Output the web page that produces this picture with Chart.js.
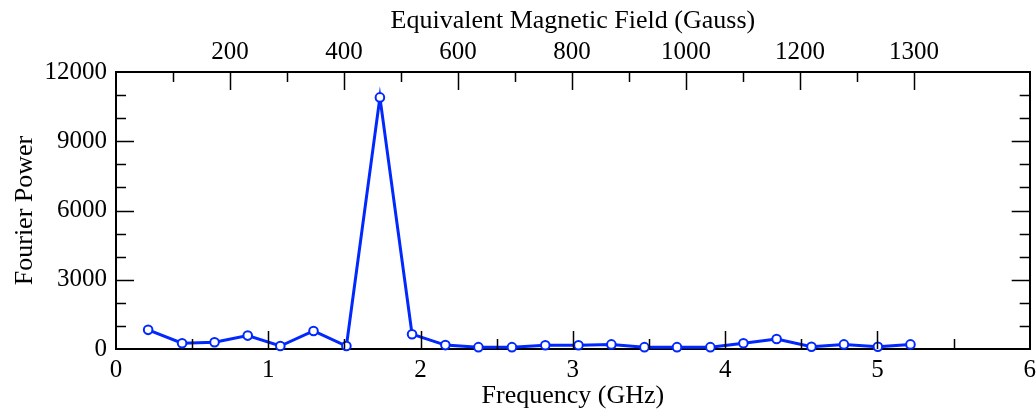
<!DOCTYPE html>
<html>
<head>
<meta charset="utf-8">
<title>Fourier Power</title>
<script src="https://cdn.jsdelivr.net/npm/chart.js@4.4.1/dist/chart.umd.min.js"></script>
<style>
    html, body { margin: 0; padding: 0; background: #fff; }
    #wrap { width: 1036px; height: 412px; }
</style>
</head>
<body>
<div id="wrap"><canvas id="powerChart"></canvas></div>
<script>
// Data
const freqGHz = [0.211, 0.434, 0.647, 0.865, 1.079, 1.297, 1.513, 1.733, 1.944, 2.163, 2.380, 2.600,
                 2.819, 3.037, 3.253, 3.470, 3.684, 3.903, 4.120, 4.338, 4.567, 4.780, 5.003, 5.217];
const fourierPower = [830, 250, 290, 580, 130, 780, 130, 10900, 640, 170, 80, 80,
                      160, 160, 200, 80, 80, 80, 250, 430, 100, 200, 100, 200];

// Axis ticks
const freqTicks = [0, 1, 2, 3, 4, 5, 6];
const freqMinor = [0.5, 1.5, 2.5, 3.5, 4.5, 5.5];
const powerTicks = [0, 3000, 6000, 9000, 12000];
const powerMinor = [1000, 2000, 4000, 5000, 7000, 8000, 10000, 11000];
const gaussTicks = [200, 400, 600, 800, 1000, 1200, 1400];
const gaussLabels = ['200', '400', '600', '800', '1000', '1200', '1300'];
const gaussMinor = [100, 300, 500, 700, 900, 1100, 1300];

const FAMILY = '"Liberation Serif", "DejaVu Serif", serif';
const TICK_FONT = { family: FAMILY, size: 25 };
const TITLE_FONT = { family: FAMILY, size: 26 };
const BLACK = '#000';
const BLUE = 'rgb(0, 40, 255)';

// draws the inward tick marks on all four sides
const insideTicks = {
    id: 'insideTicks',
    afterDraw(chart) {
        const ctx = chart.ctx;
        const a = chart.chartArea;
        const s = chart.scales;
        const MAJ = 18, MIN = 10;
        ctx.save();
        ctx.strokeStyle = BLACK;
        ctx.lineWidth = 1.5;
        ctx.beginPath();
        const vert = (scale, vals, len, y0, dir) => {
            vals.forEach(v => {
                const px = Math.round(scale.getPixelForValue(v)) + 0.5;
                ctx.moveTo(px, y0);
                ctx.lineTo(px, y0 + dir * len);
            });
        };
        const horiz = (scale, vals, len, x0, dir) => {
            vals.forEach(v => {
                const py = Math.round(scale.getPixelForValue(v)) + 0.5;
                ctx.moveTo(x0, py);
                ctx.lineTo(x0 + dir * len, py);
            });
        };
        vert(s.x, freqTicks.slice(1, -1), MAJ, a.bottom, -1);
        vert(s.x, freqMinor, MIN, a.bottom, -1);
        vert(s.x2, gaussTicks, MAJ, a.top, 1);
        vert(s.x2, gaussMinor, MIN, a.top, 1);
        horiz(s.y, powerTicks.slice(1, -1), MAJ, a.left, 1);
        horiz(s.y, powerMinor, MIN, a.left, 1);
        horiz(s.y2, powerTicks.slice(1, -1), MAJ, a.right, -1);
        horiz(s.y2, powerMinor, MIN, a.right, -1);
        ctx.stroke();
        ctx.restore();
    }
};

// keep the plot box fixed: no extra room for overhanging labels
const noSidePad = s => { s.paddingLeft = 0; s.paddingRight = 0; };

const ctx = document.getElementById('powerChart');
new Chart(ctx, {
    type: 'line',
    data: {
        datasets: [{
            data: freqGHz.map((f, i) => ({ x: f, y: fourierPower[i] })),
            xAxisID: 'x',
            yAxisID: 'y',
            borderColor: BLUE,
            borderWidth: 3,
            pointRadius: 4.3,
            pointBorderWidth: 2,
            pointBackgroundColor: '#fff',
            pointBorderColor: BLUE,
            tension: 0,
            clip: false
        }]
    },
    options: {
        responsive: true,
        maintainAspectRatio: false,
        animation: false,
        layout: { padding: 0 },
        plugins: {
            legend: { display: false },
            tooltip: { enabled: false }
        },
        scales: {
            x: {
                type: 'linear',
                position: 'bottom',
                min: 0,
                max: 6,
                afterBuildTicks: s => { s.ticks = freqTicks.map(v => ({ value: v })); },
                afterFit: s => { s.height = 63; noSidePad(s); },
                ticks: { font: TICK_FONT, color: BLACK, padding: 6, maxRotation: 0, autoSkip: false },
                grid: { display: false, drawTicks: false },
                border: { display: true, color: BLACK, width: 2 },
                title: { display: true, text: 'Frequency (GHz)', font: TITLE_FONT, color: BLACK, padding: { top: 0, bottom: 0 } }
            },
            x2: {
                type: 'linear',
                position: 'top',
                min: 0,
                max: 1603,
                afterBuildTicks: s => { s.ticks = gaussTicks.map(v => ({ value: v })); },
                afterFit: s => { s.height = 72; noSidePad(s); },
                ticks: {
                    font: TICK_FONT, color: BLACK, padding: 5, maxRotation: 0, autoSkip: false,
                    callback: (v, i) => gaussLabels[i]
                },
                grid: { display: false, drawTicks: false },
                border: { display: true, color: BLACK, width: 2 },
                title: { display: true, text: 'Equivalent Magnetic Field (Gauss)', font: TITLE_FONT, color: BLACK, padding: { top: 6, bottom: 0 } }
            },
            y: {
                position: 'left',
                min: 0,
                max: 12000,
                afterBuildTicks: s => { s.ticks = powerTicks.map(v => ({ value: v })); },
                afterFit: s => { s.width = 116; },
                ticks: { font: TICK_FONT, color: BLACK, padding: 9, callback: v => String(v) },
                grid: { display: false, drawTicks: false },
                border: { display: true, color: BLACK, width: 2 },
                title: { display: true, text: 'Fourier Power', font: TITLE_FONT, color: BLACK, padding: { top: 10, bottom: 0 } }
            },
            y2: {
                position: 'right',
                min: 0,
                max: 12000,
                afterFit: s => { s.width = 3; },
                ticks: { display: false },
                grid: { display: false, drawTicks: false },
                border: { display: true, color: BLACK, width: 2 }
            }
        }
    },
    plugins: [insideTicks]
});
</script>
</body>
</html>
